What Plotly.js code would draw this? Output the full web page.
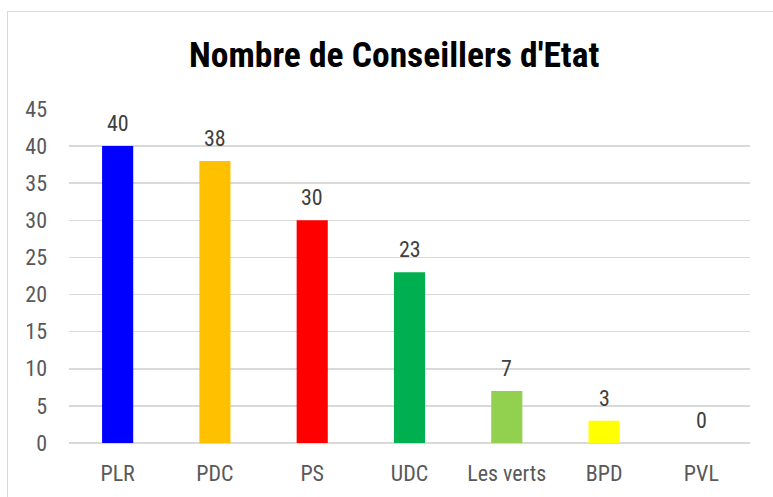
<!DOCTYPE html>
<html>
<head>
<meta charset="utf-8">
<script src="https://cdn.plot.ly/plotly-3.0.1.min.js"></script>
<style>
html,body{margin:0;padding:0;background:#fff;overflow:hidden;}
#frame{position:absolute;left:7px;top:11px;width:900px;height:700px;border:1.5px solid #d9d9d9;box-sizing:border-box;}
#chart{position:absolute;left:0;top:0;width:773px;height:497px;}
</style>
</head>
<body>
<div id="frame"></div>
<div id="chart"></div>
<script>
const categories = ["PLR", "PDC", "PS", "UDC", "Les verts", "BPD", "PVL"];
const values = [40, 38, 30, 23, 7, 3, 0];
const barColors = ["#0000FF", "#FFC000", "#FF0000", "#00B050", "#92D050", "#FFFF00", "#FFFFFF"];
const yTicks = [0, 5, 10, 15, 20, 25, 30, 35, 40, 45];

const font = "'Roboto Condensed', 'Liberation Sans Narrow', 'DejaVu Sans Condensed', sans-serif";

const trace = {
  type: "bar",
  x: categories,
  y: values,
  marker: {color: barColors},
  hoverinfo: "none"
};

const annotations = categories.map((c, i) => ({
  x: c, y: values[i], xref: "x", yref: "y",
  text: String(values[i]),
  showarrow: false, yanchor: "bottom", yshift: 8,
  font: {family: font, size: 22, color: "#404040"}
}));

const layout = {
  width: 773, height: 497,
  paper_bgcolor: "rgba(0,0,0,0)",
  plot_bgcolor: "rgba(0,0,0,0)",
  margin: {l: 69, r: 23, t: 109, b: 53.5},
  showlegend: false,
  bargap: 0.68,
  title: {
    text: "<b>Nombre de Conseillers d'Etat</b>",
    font: {family: font, size: 35.5, color: "#000000"},
    x: 0.51, xanchor: "center",
    y: 0.89, yanchor: "middle"
  },
  xaxis: {
    type: "category",
    tickfont: {family: font, size: 22, color: "#595959"},
    ticks: "", showgrid: false, showline: false, zeroline: false,
    ticklabelstandoff: 15
  },
  yaxis: {
    range: [0, 45],
    tickvals: yTicks,
    ticktext: yTicks.map(String),
    tickfont: {family: font, size: 22, color: "#595959"},
    gridcolor: "#d9d9d9", gridwidth: 1.5,
    zeroline: true, zerolinecolor: "#d9d9d9", zerolinewidth: 1.5,
    showline: false, ticks: "",
    ticklabelstandoff: 21
  },
  annotations: annotations
};

Plotly.newPlot("chart", [trace], layout, {displayModeBar: false, staticPlot: true});
</script>
</body>
</html>
